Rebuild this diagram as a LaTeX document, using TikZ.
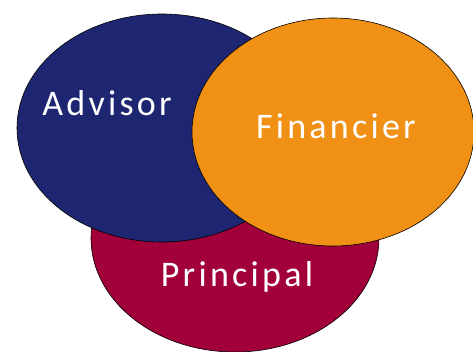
\documentclass[tikz,border=0pt]{standalone}
\usepackage{fontspec}
\setmainfont{Carlito}[LetterSpace=9]
\usetikzlibrary{shapes.geometric}
\definecolor{navy}{RGB}{30,38,114}
\definecolor{orng}{RGB}{240,144,20}
\definecolor{crim}{RGB}{162,0,58}
\tikzset{
  blob/.style={ellipse, draw=black, line width=0.6pt, inner sep=0pt},
  lbl/.style={text=white, font=\fontsize{36}{40}\selectfont, anchor=base, inner sep=0pt}
}
\begin{document}
\begin{tikzpicture}[x=1pt,y=-1pt]
\useasboundingbox (0,0) rectangle (473,352);
\node[blob, fill=crim, minimum width=288pt, minimum height=228pt] (principal) at (235,238) {};
\node[blob, fill=navy, minimum width=290pt, minimum height=228pt] (advisor) at (162,128) {};
\node[blob, fill=orng, minimum width=282pt, minimum height=228pt] (financier) at (333,132) {};
\node[lbl] (tadv) at (107,116) {Advisor};
\node[lbl] (tfin) at (336,139) {Financier};
\node[lbl] (tpri) at (237,286) {Principal};
\end{tikzpicture}
\end{document}
